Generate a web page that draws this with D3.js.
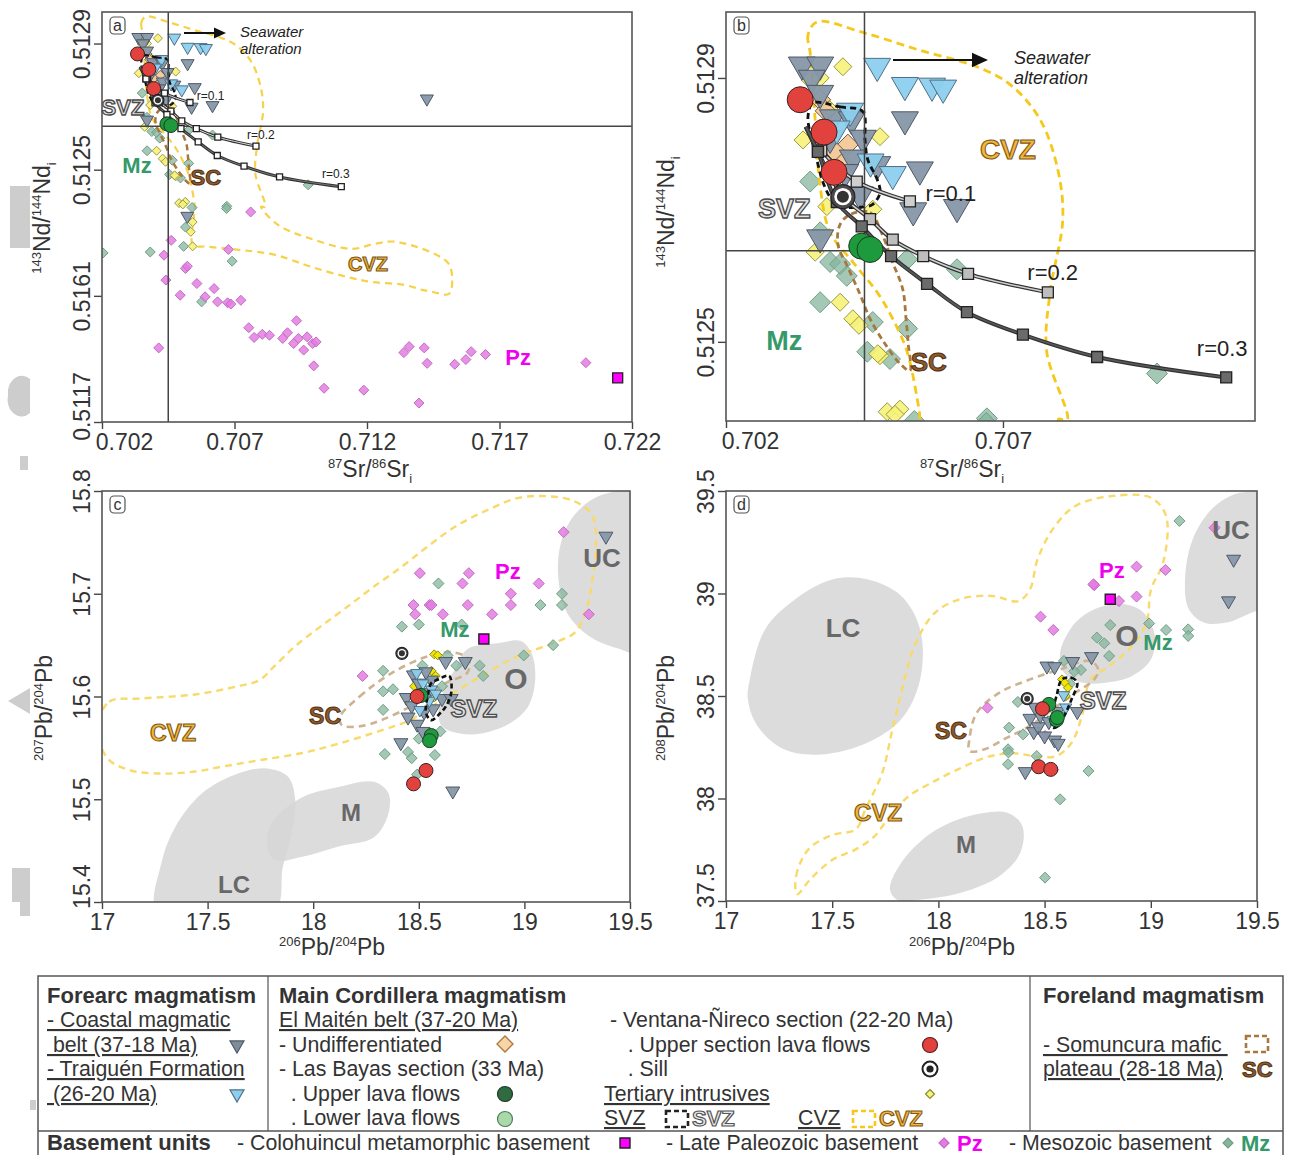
<!DOCTYPE html>
<html>
<head>
<meta charset="utf-8">
<script src="https://cdn.jsdelivr.net/npm/d3@7"></script>
<style>
  body { margin: 0; background: #fff; }
  svg { display: block; }
</style>
</head>
<body>
<svg id="fig" width="1289" height="1155"></svg>
<script>
const FONT = "'Liberation Sans', Arial, sans-serif";

// ---------- tick values / labels ----------
const srTicksA = [0.702, 0.707, 0.712, 0.717, 0.722];
const srLabelsA = ["0.702", "0.707", "0.712", "0.717", "0.722"];
const ndTicksA = [0.5129, 0.5125, 0.5121, 0.5117];
const ndLabelsA = ["0.5129", "0.5125", "0.5161", "0.5117"];
const srTicksB = [0.702, 0.707];
const srLabelsB = ["0.702", "0.707"];
const ndTicksB = [0.5129, 0.5125];
const ndLabelsB = ["0.5129", "0.5125"];
const pbTicks = [17, 17.5, 18, 18.5, 19, 19.5];
const pbLabels = ["17", "17.5", "18", "18.5", "19", "19.5"];
const pb7Ticks = [15.8, 15.7, 15.6, 15.5, 15.4];
const pb7Labels = ["15.8", "15.7", "15.6", "15.5", "15.4"];
const pb8Ticks = [39.5, 39, 38.5, 38, 37.5];
const pb8Labels = ["39.5", "39", "38.5", "38", "37.5"];

// Bulk silicate earth reference lines
const bseSr = 0.7045, bseNd = 0.512638;

// ---------- Sr-Nd data  [87Sr/86Sr, 143Nd/144Nd] ----------
const coastalSrNd = [[0.70337,0.512917],[0.70370,0.512917],[0.70355,0.512897],[0.70370,0.512874],[0.70393,0.512837],
  [0.70427,0.512834],[0.70523,0.512834],[0.70447,0.512806],[0.70473,0.512766],[0.70550,0.512758],[0.70538,0.512696],
  [0.70617,0.512701],[0.70370,0.512655],[0.70442,0.512720],[0.70429,0.512776],[0.70415,0.512754],[0.70388,0.512806],
  [0.71426,0.512722],[0.70522,0.512350]];
const traiguenSrNd = [[0.70473,0.512915],[0.70523,0.512886],[0.70572,0.512885],[0.70592,0.512882],[0.70501,0.512751],
  [0.70424,0.512847],[0.70461,0.512770],[0.70400,0.512820]];
const maitenSrNd = [[0.70370,0.512867],[0.70420,0.512799],[0.70397,0.512788],[0.70380,0.512850],[0.70410,0.512770]];
const ventanaSrNd = [[0.70334,0.512867],[0.70377,0.512818],[0.70395,0.512757]];
const sillSrNd = [[0.70411,0.512720]];
const bayasUpperSrNd = [[0.70445,0.512645],[0.70460,0.512640]];
const intrusiveSrNd = [[0.70411,0.512917],[0.70352,0.512897],[0.70370,0.512900],[0.70339,0.512806],[0.70478,0.512811],
  [0.70387,0.512852],[0.70382,0.512705],[0.70465,0.512701],[0.70361,0.512636],[0.70406,0.512560],[0.70429,0.512535],
  [0.70440,0.512525],[0.70478,0.512479],[0.70491,0.512394],[0.70514,0.512398],[0.70505,0.512390],[0.70542,0.512334],
  [0.70535,0.512303],[0.70542,0.512257],[0.70474,0.512482]];
const mzSrNd = [[0.70352,0.512743],[0.70370,0.512666],[0.70388,0.512621],[0.70370,0.512560],[0.70418,0.512600],
  [0.70465,0.512530],[0.70455,0.512485],[0.70496,0.512474],[0.70527,0.512520],[0.70527,0.512625],[0.70617,0.512610],
  [0.70671,0.512384],[0.70406,0.512618],[0.70978,0.512452],[0.70204,0.512236],[0.70382,0.512239],[0.70508,0.512257],
  [0.70670,0.512377],[0.70691,0.512210],[0.70576,0.512081],[0.70515,0.512318],[0.70540,0.512380]];
const pzSrNd = [[0.70761,0.512366],[0.70461,0.512276],[0.70434,0.512229],[0.70441,0.512150],[0.70515,0.512187],
  [0.70522,0.512194],[0.70495,0.512102],[0.70558,0.512139],[0.70589,0.512097],[0.70623,0.512123],[0.70636,0.512081],
  [0.70674,0.512078],[0.70686,0.512074],[0.70724,0.512086],[0.70677,0.512247],[0.70414,0.511935],[0.70754,0.511999],
  [0.70774,0.511968],[0.70805,0.511978],[0.70832,0.511975],[0.70882,0.511965],[0.70900,0.511983],[0.70934,0.512021],
  [0.70941,0.511965],[0.70923,0.511949],[0.70961,0.511928],[0.70974,0.511970],[0.70995,0.511949],[0.71008,0.511954],
  [0.70999,0.511878],[0.71038,0.511807],[0.71188,0.511801],[0.71339,0.511920],[0.71359,0.511939],[0.71416,0.511935],
  [0.71427,0.511886],[0.71396,0.511760],[0.71531,0.511883],[0.71573,0.511898],[0.71593,0.511923],[0.71647,0.511914],
  [0.72026,0.511888]];
const coloSrNd = [[0.72146,0.511840]];

// mixing curves
const mixR01 = [[0.70344,0.512826],[0.70372,0.512790],[0.70436,0.512743],[0.70532,0.512713]];
const mixR02 = [[0.70344,0.512826],[0.70366,0.512788],[0.70410,0.512722],[0.70460,0.512686],[0.70501,0.512655],
  [0.70556,0.512630],[0.70637,0.512603],[0.70781,0.512575]];
const mixR03 = [[0.70344,0.512826],[0.70366,0.512788],[0.70400,0.512712],[0.70445,0.512675],[0.70498,0.512630],
  [0.70563,0.512588],[0.70635,0.512545],[0.70736,0.512511],[0.70870,0.512477],[0.71103,0.512446]];

// fields in Sr-Nd space
const cvzSrNd = [[0.70364,0.512985],[0.70348,0.512965],[0.70352,0.512938],[0.70361,0.512837],[0.70370,0.512735],
  [0.70388,0.512666],[0.70429,0.512621],[0.70473,0.512575],[0.70501,0.512535],[0.70527,0.512485],[0.70545,0.512414],
  [0.70550,0.512384],[0.70547,0.512351],[0.70543,0.512262],[0.70596,0.512256],[0.70717,0.512246],[0.70853,0.512230],
  [0.70989,0.512192],[0.71125,0.512160],[0.71219,0.512144],[0.71340,0.512135],[0.71408,0.512119],[0.71445,0.512113],
  [0.71509,0.512106],[0.71521,0.512160],[0.71502,0.512208],[0.71313,0.512271],[0.71230,0.512265],[0.71143,0.512249],
  [0.70989,0.512281],[0.70864,0.512325],[0.70800,0.512383],[0.70816,0.512382],[0.70779,0.512485],[0.70785,0.512575],
  [0.70808,0.512686],[0.70799,0.512761],[0.70767,0.512837],[0.70713,0.512890],[0.70653,0.512917],[0.70550,0.512942],
  [0.70447,0.512969]];
const scSrNd = [[0.70424,0.512693],[0.70460,0.512696],[0.70482,0.512663],[0.70500,0.512622],[0.70519,0.512580],
  [0.70525,0.512535],[0.70529,0.512497],[0.70532,0.512456],[0.70514,0.512467],[0.70487,0.512497],[0.70460,0.512535],
  [0.70442,0.512572],[0.70420,0.512613],[0.70402,0.512648],[0.70406,0.512678]];
const svzSrNd = [[0.70357,0.512862],[0.70406,0.512856],[0.70447,0.512849],[0.70451,0.512806],[0.70456,0.512776],
  [0.70473,0.512746],[0.70478,0.512726],[0.70464,0.512708],[0.70442,0.512704],[0.70411,0.512705],[0.70391,0.512716],
  [0.70375,0.512742],[0.70364,0.512776],[0.70355,0.512806],[0.70348,0.512841]];

// ---------- Pb data, panel c  [206Pb/204Pb, 207Pb/204Pb] ----------
const coastalPb7 = [[18.720,15.633],[18.627,15.633],[18.475,15.620],[18.441,15.598],[18.466,15.590],[18.449,15.579],
  [18.492,15.572],[18.525,15.584],[18.568,15.587],[18.542,15.603],[18.559,15.615],[18.610,15.597],[18.653,15.597],
  [18.415,15.554],[18.661,15.507],[19.386,15.755],[18.534,15.623],[18.500,15.612],[18.520,15.565]];
const traiguenPb7 = [[18.490,15.622],[18.520,15.612],[18.560,15.606],[18.550,15.595],[18.505,15.586],[18.580,15.602]];
const ventanaPb7 = [[18.492,15.600],[18.534,15.528],[18.475,15.515]];
const bayasPb7 = [[18.510,15.601],[18.559,15.562],[18.551,15.557]];
const sillPb7 = [[18.420,15.642]];
const intrusivePb7 = [[18.573,15.641],[18.590,15.640],[18.478,15.610],[18.580,15.620],[18.573,15.599],[18.560,15.625]];
const pzPb7 = [[18.505,15.720],[18.737,15.720],[18.707,15.710],[19.186,15.760],[19.068,15.710],[18.936,15.700],
  [18.936,15.689],[18.732,15.689],[18.551,15.689],[18.475,15.689],[18.483,15.680],[18.614,15.680],[18.847,15.680],
  [19.305,15.680],[18.234,15.620],[18.560,15.689]];
const mzPb7 = [[18.593,15.710],[18.420,15.668],[18.500,15.670],[18.703,15.670],[19.076,15.689],[19.178,15.700],
  [19.178,15.689],[19.136,15.650],[18.997,15.640],[18.636,15.640],[18.788,15.630],[18.805,15.620],[18.331,15.625],
  [18.378,15.607],[18.331,15.605],[18.331,15.587],[18.517,15.630],[18.678,15.630],[18.610,15.610],[18.339,15.544],
  [18.449,15.546],[18.466,15.540],[18.500,15.559],[18.576,15.543],[18.602,15.566],[18.492,15.524]];
const coloPb7 = [[18.808,15.656]];

// ---------- Pb data, panel d  [206Pb/204Pb, 208Pb/204Pb] ----------
const coastalPb8 = [[18.511,38.641],[18.547,38.638],[18.632,38.663],[18.721,38.687],[18.654,38.419],[18.431,38.386],
  [18.449,38.321],[18.470,38.345],[18.547,38.280],[18.564,38.264],[18.409,38.126],[19.390,39.162],[19.366,38.959],
  [18.480,38.400],[18.520,38.370],[18.500,38.300],[18.560,38.420],[18.455,38.440]];
const traiguenPb8 = [[18.573,38.400],[18.600,38.440],[18.540,38.380],[18.590,38.500]];
const ventanaPb8 = [[18.490,38.438],[18.472,38.155],[18.529,38.142]];
const bayasPb8 = [[18.520,38.459],[18.556,38.383],[18.560,38.395]];
const sillPb8 = [[18.418,38.487]];
const intrusivePb8 = [[18.582,38.581],[18.595,38.565],[18.610,38.540],[18.600,38.500]];
const pzPb8 = [[18.734,39.040],[18.933,39.131],[19.069,39.115],[18.933,38.985],[18.850,38.963],[18.481,38.887],
  [18.541,38.822],[18.231,38.443],[19.300,39.321],[18.502,38.305],[18.730,39.045],[18.540,38.140]];
const mzPb8 = [[19.135,39.354],[18.809,38.846],[18.992,38.854],[19.072,38.822],[19.176,38.825],[19.176,38.793],
  [18.746,38.785],[18.781,38.757],[18.804,38.695],[18.671,38.627],[18.591,38.671],[18.333,38.346],[18.399,38.313],
  [18.328,38.240],[18.330,38.225],[18.328,38.167],[18.463,38.207],[18.707,38.134],[18.573,37.996],[18.502,37.614],
  [18.374,38.471],[18.640,38.620],[18.620,38.560]];
const coloPb8 = [[18.809,38.972]];

// ---------- fields in Pb space ----------
const cvzPb7 = [[16.983,15.574],[17.034,15.595],[17.186,15.598],[17.441,15.602],[17.644,15.610],[17.746,15.616],
  [17.814,15.629],[17.915,15.649],[18.034,15.668],[18.153,15.686],[18.288,15.707],[18.424,15.727],[18.542,15.746],
  [18.678,15.766],[18.831,15.782],[18.966,15.793],[19.102,15.795],[19.237,15.790],[19.322,15.776],[19.339,15.746],
  [19.322,15.714],[19.288,15.681],[19.237,15.662],[19.136,15.652],[18.966,15.639],[18.797,15.620],[18.661,15.603],
  [18.559,15.590],[18.458,15.577],[18.322,15.567],[18.119,15.554],[17.949,15.545],[17.746,15.538],[17.576,15.532],
  [17.441,15.527],[17.271,15.525],[17.136,15.528],[17.034,15.538],[16.992,15.554]];
const scPb7 = [[18.127,15.580],[18.220,15.600],[18.373,15.623],[18.542,15.639],[18.661,15.643],[18.737,15.636],
  [18.729,15.623],[18.627,15.613],[18.559,15.603],[18.458,15.590],[18.322,15.577],[18.220,15.571],[18.136,15.572]];
const svzPb7 = [[18.585,15.616],[18.644,15.620],[18.653,15.603],[18.627,15.590],[18.602,15.584],[18.559,15.577],
  [18.534,15.584],[18.542,15.600],[18.559,15.613]];
const ucPb7 = [[19.161,15.714],[19.169,15.746],[19.220,15.772],[19.322,15.792],[19.441,15.800],[19.576,15.802],
  [19.576,15.642],[19.441,15.647],[19.305,15.659],[19.203,15.681]];
const oPb7 = [[18.729,15.646],[18.881,15.652],[18.983,15.654],[19.034,15.642],[19.051,15.616],[19.017,15.590],
  [18.932,15.574],[18.797,15.564],[18.695,15.564],[18.610,15.571],[18.593,15.587],[18.627,15.610],[18.678,15.629]];
const mPb7 = [[17.780,15.460],[17.814,15.480],[17.949,15.502],[18.119,15.512],[18.288,15.517],[18.356,15.506],
  [18.356,15.486],[18.288,15.463],[18.119,15.454],[17.949,15.444],[17.814,15.441]];
const lcPb7 = [[17.263,15.390],[17.280,15.437],[17.347,15.473],[17.475,15.506],[17.644,15.525],[17.780,15.530],
  [17.881,15.522],[17.915,15.499],[17.898,15.467],[17.856,15.434],[17.814,15.390]];

const cvzPb8 = [[17.335,37.533],[17.330,37.622],[17.388,37.752],[17.495,37.820],[17.611,37.850],[17.656,37.947],
  [17.736,38.126],[17.780,38.321],[17.825,38.516],[17.887,38.744],[17.985,38.907],[18.110,38.975],[18.253,38.988],
  [18.377,38.963],[18.431,39.020],[18.467,39.167],[18.538,39.313],[18.645,39.427],[18.823,39.476],[19.001,39.467],
  [19.072,39.378],[19.058,39.150],[19.001,39.020],[18.980,38.858],[18.912,38.744],[18.805,38.646],[18.716,38.581],
  [18.680,38.419],[18.627,38.272],[18.556,38.207],[18.467,38.204],[18.360,38.220],[18.235,38.204],[18.092,38.142],
  [17.968,38.077],[17.861,38.012],[17.772,37.915],[17.700,37.817],[17.611,37.752],[17.504,37.703],[17.397,37.606]];
const scPb8 = [[18.146,38.289],[18.181,38.419],[18.288,38.516],[18.431,38.581],[18.573,38.630],[18.716,38.671],
  [18.752,38.630],[18.734,38.581],[18.645,38.516],[18.538,38.435],[18.431,38.354],[18.324,38.297],[18.217,38.240],
  [18.146,38.232]];
const svzPb8 = [[18.582,38.581],[18.627,38.589],[18.654,38.565],[18.627,38.484],[18.600,38.419],[18.565,38.354],
  [18.538,38.346],[18.538,38.419],[18.556,38.500]];
const lcPb8 = [[17.112,38.581],[17.184,38.825],[17.326,38.972],[17.504,39.069],[17.665,39.069],[17.825,38.988],
  [17.914,38.825],[17.914,38.581],[17.825,38.386],[17.665,38.272],[17.451,38.215],[17.273,38.240],[17.148,38.354],
  [17.103,38.484]];
const mPb8 = [[17.772,37.557],[17.825,37.687],[17.968,37.833],[18.146,37.915],[18.324,37.931],[18.395,37.866],
  [18.386,37.736],[18.288,37.622],[18.110,37.541],[17.932,37.508],[17.807,37.505]];
const oPb8 = [[18.573,38.711],[18.645,38.858],[18.752,38.931],[18.876,38.947],[18.965,38.907],[19.019,38.793],
  [19.001,38.679],[18.912,38.598],[18.787,38.565],[18.680,38.565],[18.591,38.614]];
const ucPb8 = [[19.179,38.923],[19.161,39.069],[19.197,39.264],[19.286,39.411],[19.393,39.484],[19.500,39.500],
  [19.607,39.524],[19.607,38.923],[19.500,38.915],[19.357,38.858],[19.250,38.858]];

// ---------- styles ----------
const sty = {
  coastal:  { fill: "#8797a8", stroke: "#4d5966", op: 0.95 },
  traiguen: { fill: "#8ccfee", stroke: "#4f6f85", op: 0.95 },
  maiten:   { fill: "#f2c898", stroke: "#6b5a48", op: 0.95 },
  ventana:  { fill: "#e2423d", stroke: "#3a2020", op: 1 },
  bayas:    { fill: "#1d9a3c", stroke: "#1f3a25", op: 1 },
  yellowAB: { fill: "#f6f27a", stroke: "#9a9a40", op: 0.9 },
  yellowCD: { fill: "#f2e600", stroke: "#8a8a20", op: 1 },
  pz:       { fill: "#e27ce2", stroke: "#c56ac5", op: 0.85 },
  mz:       { fill: "#86b59c", stroke: "#6f9f86", op: 0.75 },
  colo:     { fill: "#ff00ff", stroke: "#222", op: 1 }
};
const LAB = {
  svz:  { fill: "#e2e2e2", stroke: "#4a4a4a", sw: 1.3 },
  cvz:  { fill: "#f5b53a", stroke: "#7d5a1a", sw: 1.1 },
  sc:   { fill: "#8d5a2b", stroke: "#4f3015", sw: 1 },
  mz:   { fill: "#35996a" },
  pz:   { fill: "#f000f0" },
  grey: { fill: "#686868" },
  txt:  { fill: "#222", weight: "normal" }
};

const svg = d3.select("#fig").attr("font-family", FONT);

// shape paths centred on 0,0
const shapes = {
  tri: s => `M${-s/2},${-s*0.36}L${s/2},${-s*0.36}L0,${s*0.5}Z`,
  dia: s => `M0,${-s/2}L${s/2},0L0,${s/2}L${-s/2},0Z`,
  sq:  s => `M${-s/2},${-s/2}h${s}v${s}h${-s}Z`,
  circ: s => `M${-s},0a${s},${s} 0 1,0 ${2*s},0a${s},${s} 0 1,0 ${-2*s},0Z`
};

// ---------- panel helpers ----------
function makePanel(p) {
  const x = d3.scaleLinear().domain(p.xd).range([p.x0, p.x0 + p.w]);
  const y = d3.scaleLinear().domain(p.yd).range([p.y0 + p.h, p.y0]);
  const root = svg.append("g");
  root.append("clipPath").attr("id", "clip-" + p.id)
    .append("rect").attr("x", p.x0).attr("y", p.y0).attr("width", p.w).attr("height", p.h);
  const plot = root.append("g").attr("clip-path", `url(#clip-${p.id})`);
  return { x, y, root, plot, p };
}

function pts(P, data, shape, size, s, sw) {
  P.plot.append("g").selectAll("path").data(data).join("path")
    .attr("transform", d => `translate(${P.x(d[0])},${P.y(d[1])})`)
    .attr("d", shapes[shape](size))
    .attr("fill", s.fill).attr("stroke", s.stroke)
    .attr("stroke-width", sw || 1).attr("fill-opacity", s.op);
}

function sill(P, data, r) {
  const g = P.plot.append("g").selectAll("g").data(data).join("g")
    .attr("transform", d => `translate(${P.x(d[0])},${P.y(d[1])})`);
  g.append("circle").attr("r", r).attr("fill", "#4a4a4a").attr("stroke", "#222").attr("stroke-width", 1.2);
  g.append("circle").attr("r", r * 0.72).attr("fill", "#fff");
  g.append("circle").attr("r", r * 0.5).attr("fill", "#333");
}

const fieldLine = d3.line().curve(d3.curveCatmullRomClosed.alpha(0.5));
function field(P, data, opt) {
  P.plot.append("path")
    .attr("d", fieldLine(data.map(d => [P.x(d[0]), P.y(d[1])])))
    .attr("fill", opt.fill || "none").attr("fill-opacity", opt.op || 1)
    .attr("stroke", opt.stroke || "none").attr("stroke-width", opt.sw || 0)
    .attr("stroke-dasharray", opt.dash || null);
}

const mixLine = d3.line().curve(d3.curveCatmullRom);
function mixing(P, data, inner, sq, sqFill, outerW, innerW) {
  const dd = data.map(d => [P.x(d[0]), P.y(d[1])]);
  P.plot.append("path").attr("d", mixLine(dd)).attr("fill", "none").attr("stroke", "#333").attr("stroke-width", outerW);
  P.plot.append("path").attr("d", mixLine(dd)).attr("fill", "none").attr("stroke", inner).attr("stroke-width", innerW);
  P.plot.append("g").selectAll("path").data(data.slice(1)).join("path")
    .attr("transform", d => `translate(${P.x(d[0])},${P.y(d[1])})`)
    .attr("d", shapes.sq(sq)).attr("fill", sqFill).attr("stroke", "#222").attr("stroke-width", 1.3);
}

function label(P, text, pos, kind, size, extra) {
  const s = LAB[kind];
  const t = P.root.append("text")
    .attr("x", P.x(pos[0])).attr("y", P.y(pos[1]))
    .attr("text-anchor", (extra && extra.anchor) || "middle")
    .attr("dominant-baseline", "central")
    .attr("font-size", size).attr("font-weight", s.weight || "bold")
    .attr("fill", s.fill).text(text);
  if (s.stroke) t.attr("stroke", s.stroke).attr("stroke-width", s.sw);
  return t;
}

function axes(P, xt, xl, yt, yl, firstShift) {
  const { x, y, root, p } = P;
  const ax = root.append("g").attr("transform", `translate(0,${p.y0 + p.h})`)
    .call(d3.axisBottom(x).tickValues(xt).tickFormat((d, i) => xl[i]).tickSize(7).tickSizeOuter(0));
  ax.attr("font-size", 23).attr("font-family", FONT);
  ax.select(".domain").remove();
  ax.selectAll(".tick line").attr("stroke", "#444").attr("stroke-width", 1.4);
  ax.selectAll(".tick text").attr("fill", "#333").attr("y", 12)
    .attr("dx", (d, i) => (i === 0 ? firstShift : 0));

  const ay = root.append("g").attr("transform", `translate(${p.x0},0)`)
    .call(d3.axisLeft(y).tickValues(yt).tickFormat((d, i) => yl[i]).tickSize(8).tickSizeOuter(0));
  ay.attr("font-size", 23).attr("font-family", FONT);
  ay.select(".domain").remove();
  ay.selectAll(".tick line").attr("stroke", "#444").attr("stroke-width", 1.4);
  ay.selectAll(".tick text").attr("fill", "#333")
    .attr("transform", "rotate(-90)").attr("y", -12).attr("dy", 0)
    .attr("x", (d, i) => (i === yt.length - 1 && P.p.shiftLast ? 16 : 0))
    .attr("text-anchor", "middle");

  root.append("rect").attr("x", p.x0).attr("y", p.y0).attr("width", p.w).attr("height", p.h)
    .attr("fill", "none").attr("stroke", "#555").attr("stroke-width", 1.6);
  root.append("rect").attr("x", p.x0 + 8).attr("y", p.y0 + 5).attr("width", 15).attr("height", 17).attr("rx", 4)
    .attr("fill", "#fff").attr("stroke", "#555").attr("stroke-width", 1.2);
  root.append("text").attr("x", p.x0 + 15.5).attr("y", p.y0 + 19).attr("text-anchor", "middle")
    .attr("font-size", 16).attr("fill", "#333").text(p.id);
}

// axis title: parts = [[text, kind]] kind: n normal, sup, sub
function title(x, y, parts, rot) {
  const t = svg.append("text").attr("font-size", 23).attr("fill", "#333").attr("text-anchor", "middle")
    .attr("transform", `translate(${x},${y})` + (rot ? " rotate(-90)" : ""));
  let shift = 0;
  parts.forEach(([s, k]) => {
    const target = k === "sup" ? -9 : k === "sub" ? 6 : 0;
    t.append("tspan").attr("dy", target - shift).attr("font-size", k === "n" ? 23 : 13).text(s);
    shift = target;
  });
  return t;
}

function arrow(x1, x2, y, head) {
  svg.append("line").attr("x1", x1).attr("x2", x2 - head).attr("y1", y).attr("y2", y)
    .attr("stroke", "#111").attr("stroke-width", 2);
  svg.append("path").attr("d", `M${x2},${y}L${x2 - head},${y - head * 0.45}L${x2 - head},${y + head * 0.45}Z`)
    .attr("fill", "#111");
}

// ---------- stray greyscale fragments at the left edge ----------
const edge = svg.append("g").attr("fill", "#cdcdcd");
edge.append("rect").attr("x", 10).attr("y", 186).attr("width", 20).attr("height", 62);
edge.append("path").attr("d", "M8,395 a14,17 0 0,1 22,-16 v34 a14,17 0 0,1 -22,-18Z");
edge.append("rect").attr("x", 20).attr("y", 456).attr("width", 8).attr("height", 14);
edge.append("path").attr("d", "M8,701 L30,688 L30,714Z");
edge.append("path").attr("d", "M12,868 h18 v48 h-10 v-14 h-8Z");
edge.append("rect").attr("x", 30).attr("y", 1100).attr("width", 6).attr("height", 10);

// ================= panel a =================
const A = makePanel({ id: "a", x0: 102, y0: 12, w: 530, h: 410, xd: [0.702, 0.722], yd: [0.5117, 0.5130], shiftLast: true });
field(A, cvzSrNd, { stroke: "#f6d24a", sw: 2.2, dash: "7,5" });
pts(A, mzSrNd, "dia", 10, sty.mz);
pts(A, pzSrNd, "dia", 10, sty.pz);
pts(A, intrusiveSrNd, "dia", 9, sty.yellowAB);
field(A, scSrNd, { stroke: "#a8773f", sw: 2.5, dash: "6,4" });
pts(A, maitenSrNd, "dia", 10, sty.maiten);
pts(A, coastalSrNd, "tri", 13, sty.coastal);
pts(A, traiguenSrNd, "tri", 13, sty.traiguen);
field(A, svzSrNd, { stroke: "#111", sw: 2.2, dash: "5,3" });
A.plot.append("line").attr("x1", A.x(bseSr)).attr("x2", A.x(bseSr)).attr("y1", 12).attr("y2", 422).attr("stroke", "#444").attr("stroke-width", 1.5);
A.plot.append("line").attr("x1", 102).attr("x2", 632).attr("y1", A.y(bseNd)).attr("y2", A.y(bseNd)).attr("stroke", "#444").attr("stroke-width", 1.5);
mixing(A, mixR01, "#ddd", 6, "#fff", 3, 1);
mixing(A, mixR02, "#ddd", 6, "#fff", 3, 1);
mixing(A, mixR03, "#777", 6, "#fff", 3, 1);
pts(A, bayasUpperSrNd, "circ", 7, sty.bayas);
pts(A, ventanaSrNd, "circ", 7, sty.ventana);
sill(A, sillSrNd, 6);
pts(A, coloSrNd, "sq", 10, sty.colo, 1.3);
axes(A, srTicksA, srLabelsA, ndTicksA, ndLabelsA, 22);
label(A, "SVZ", [0.70279, 0.512697], "svz", 22);
label(A, "Mz", [0.70332, 0.512513], "mz", 22);
label(A, "SC", [0.70592, 0.512475], "sc", 22);
label(A, "CVZ", [0.71204, 0.512202], "cvz", 20);
label(A, "Pz", [0.71770, 0.511906], "pz", 22);
label(A, "r=0.1", [0.70558, 0.512734], "txt", 12, { anchor: "start" });
label(A, "r=0.2", [0.70747, 0.512611], "txt", 12, { anchor: "start" });
label(A, "r=0.3", [0.71030, 0.512487], "txt", 12, { anchor: "start" });
arrow(184, 226, 33, 12);
svg.append("text").attr("x", 240).attr("y", 37).attr("font-size", 15).attr("font-style", "italic").attr("fill", "#222").text("Seawater");
svg.append("text").attr("x", 240).attr("y", 54).attr("font-size", 15).attr("font-style", "italic").attr("fill", "#222").text("alteration");
title(370, 477, [["87", "sup"], ["Sr/", "n"], ["86", "sup"], ["Sr", "n"], ["i", "sub"]]);
title(50, 218, [["143", "sup"], ["Nd/", "n"], ["144", "sup"], ["Nd", "n"], ["i", "sub"]], true);

// ================= panel b =================
const B = makePanel({ id: "b", x0: 726, y0: 12, w: 529, h: 409, xd: [0.702, 0.71155], yd: [0.51238, 0.51300] });
pts(B, mzSrNd, "dia", 21, sty.mz);
pts(B, intrusiveSrNd, "dia", 18, sty.yellowAB);
field(B, cvzSrNd, { stroke: "#f5c91c", sw: 2.8, dash: "8,5" });
field(B, scSrNd, { stroke: "#a8773f", sw: 2.8, dash: "6,4" });
pts(B, maitenSrNd, "dia", 21, sty.maiten);
pts(B, coastalSrNd, "tri", 27, sty.coastal);
pts(B, traiguenSrNd, "tri", 27, sty.traiguen);
field(B, svzSrNd, { stroke: "#111", sw: 2.8, dash: "6,4" });
B.plot.append("line").attr("x1", B.x(bseSr)).attr("x2", B.x(bseSr)).attr("y1", 12).attr("y2", 421).attr("stroke", "#444").attr("stroke-width", 1.5);
B.plot.append("line").attr("x1", 726).attr("x2", 1255).attr("y1", B.y(bseNd)).attr("y2", B.y(bseNd)).attr("stroke", "#444").attr("stroke-width", 1.5);
mixing(B, mixR01, "#d0d0d0", 11, "#cfcfcf", 4, 1.6);
mixing(B, mixR02, "#d0d0d0", 11, "#bdbdbd", 4, 1.6);
mixing(B, mixR03, "#5a5a5a", 11, "#6b6b6b", 4, 1.6);
pts(B, bayasUpperSrNd, "circ", 13, sty.bayas);
pts(B, ventanaSrNd, "circ", 13, sty.ventana);
sill(B, sillSrNd, 12);
axes(B, srTicksB, srLabelsB, ndTicksB, ndLabelsB, 24);
label(B, "CVZ", [0.70709, 0.512791], "cvz", 28);
label(B, "SVZ", [0.70305, 0.512701], "svz", 27);
label(B, "Mz", [0.70305, 0.512502], "mz", 27);
label(B, "SC", [0.70566, 0.512470], "sc", 26);
label(B, "r=0.1", [0.70560, 0.512725], "txt", 22, { anchor: "start" });
label(B, "r=0.2", [0.70744, 0.512605], "txt", 22, { anchor: "start" });
label(B, "r=0.3", [0.71050, 0.512490], "txt", 22, { anchor: "start" });
arrow(893, 988, 60, 16);
svg.append("text").attr("x", 1014).attr("y", 64).attr("font-size", 18).attr("font-style", "italic").attr("fill", "#222").text("Seawater");
svg.append("text").attr("x", 1014).attr("y", 84).attr("font-size", 18).attr("font-style", "italic").attr("fill", "#222").text("alteration");
title(962, 477, [["87", "sup"], ["Sr/", "n"], ["86", "sup"], ["Sr", "n"], ["i", "sub"]]);
title(674, 212, [["143", "sup"], ["Nd/", "n"], ["144", "sup"], ["Nd", "n"], ["i", "sub"]], true);

// ================= panel c =================
const C = makePanel({ id: "c", x0: 102, y0: 491, w: 528, h: 411, xd: [17, 19.5], yd: [15.4, 15.8], shiftLast: true });
[ucPb7, oPb7, mPb7, lcPb7].forEach(f => field(C, f, { fill: "#d6d6d6", op: 0.85 }));
field(C, cvzPb7, { stroke: "#f7da6a", sw: 2.4, dash: "7,5" });
field(C, scPb7, { stroke: "#cdb391", sw: 2.6, dash: "7,5" });
pts(C, mzPb7, "dia", 11, sty.mz);
pts(C, pzPb7, "dia", 11, sty.pz);
pts(C, intrusivePb7, "dia", 9, sty.yellowCD);
pts(C, coastalPb7, "tri", 14, sty.coastal);
pts(C, traiguenPb7, "tri", 12, sty.traiguen);
field(C, svzPb7, { stroke: "#111", sw: 2.6, dash: "5,3" });
pts(C, bayasPb7, "circ", 7, sty.bayas);
pts(C, ventanaPb7, "circ", 7, sty.ventana);
sill(C, sillPb7, 6);
pts(C, coloPb7, "sq", 10, sty.colo, 1.4);
axes(C, pbTicks, pbLabels, pb7Ticks, pb7Labels, 0);
label(C, "CVZ", [17.336, 15.564], "cvz", 23);
label(C, "SC", [18.056, 15.581], "sc", 23);
label(C, "Mz", [18.671, 15.665], "mz", 22);
label(C, "Pz", [18.922, 15.722], "pz", 22);
label(C, "O", [18.960, 15.618], "grey", 30);
label(C, "SVZ", [18.761, 15.588], "svz", 24);
label(C, "UC", [19.367, 15.735], "grey", 26);
label(C, "M", [18.179, 15.487], "grey", 24);
label(C, "LC", [17.625, 15.417], "grey", 24);
title(332, 955, [["206", "sup"], ["Pb/", "n"], ["204", "sup"], ["Pb", "n"]]);
title(52, 708, [["207", "sup"], ["Pb/", "n"], ["204", "sup"], ["Pb", "n"]], true);

// ================= panel d =================
const D = makePanel({ id: "d", x0: 726, y0: 491, w: 531, h: 410, xd: [17, 19.5], yd: [37.5, 39.5], shiftLast: true });
[ucPb8, oPb8, mPb8, lcPb8].forEach(f => field(D, f, { fill: "#d6d6d6", op: 0.85 }));
field(D, cvzPb8, { stroke: "#f7da6a", sw: 2.4, dash: "7,5" });
field(D, scPb8, { stroke: "#cdb391", sw: 2.6, dash: "7,5" });
pts(D, mzPb8, "dia", 11, sty.mz);
pts(D, pzPb8, "dia", 11, sty.pz);
pts(D, intrusivePb8, "dia", 9, sty.yellowCD);
pts(D, coastalPb8, "tri", 14, sty.coastal);
pts(D, traiguenPb8, "tri", 12, sty.traiguen);
field(D, svzPb8, { stroke: "#111", sw: 2.6, dash: "5,3" });
pts(D, bayasPb8, "circ", 7, sty.bayas);
pts(D, ventanaPb8, "circ", 7, sty.ventana);
sill(D, sillPb8, 6);
pts(D, coloPb8, "sq", 10, sty.colo, 1.4);
axes(D, pbTicks, pbLabels, pb8Ticks, pb8Labels, 0);
label(D, "LC", [17.551, 38.832], "grey", 26);
label(D, "O", [18.888, 38.793], "grey", 30);
label(D, "Mz", [19.034, 38.759], "mz", 22);
label(D, "Pz", [18.817, 39.110], "pz", 22);
label(D, "UC", [19.378, 39.310], "grey", 26);
label(D, "SVZ", [18.775, 38.480], "svz", 24);
label(D, "SC", [18.059, 38.329], "sc", 23);
label(D, "CVZ", [17.716, 37.934], "cvz", 24);
label(D, "M", [18.130, 37.778], "grey", 24);
title(962, 955, [["206", "sup"], ["Pb/", "n"], ["204", "sup"], ["Pb", "n"]]);
title(674, 708, [["208", "sup"], ["Pb/", "n"], ["204", "sup"], ["Pb", "n"]], true);

// ================= legend =================
const L = svg.append("g").attr("font-size", 21.3).attr("fill", "#333");
L.append("path").attr("d", "M38,1160 V976 H1283 V1160").attr("fill", "none").attr("stroke", "#555").attr("stroke-width", 1.5);
L.append("line").attr("x1", 38).attr("x2", 1283).attr("y1", 1131).attr("y2", 1131).attr("stroke", "#555").attr("stroke-width", 1.5);
L.append("line").attr("x1", 268).attr("x2", 268).attr("y1", 976).attr("y2", 1131).attr("stroke", "#555").attr("stroke-width", 1.2);
L.append("line").attr("x1", 1030).attr("x2", 1030).attr("y1", 976).attr("y2", 1131).attr("stroke", "#555").attr("stroke-width", 1.2);

function lt(x, y, s, o) {
  o = o || {};
  const t = L.append("text").attr("x", x).attr("y", y).text(s).attr("xml:space", "preserve");
  if (o.bold) t.attr("font-weight", "bold");
  if (o.u) t.style("text-decoration", "underline");
  if (o.fill) t.attr("fill", o.fill);
  if (o.size) t.attr("font-size", o.size);
  if (o.stroke) t.attr("stroke", o.stroke).attr("stroke-width", o.sw || 1);
  return t;
}
function lsym(x, y, shape, size, s, sw) {
  L.append("path").attr("transform", `translate(${x},${y})`).attr("d", shapes[shape](size))
    .attr("fill", s.fill).attr("stroke", s.stroke).attr("stroke-width", sw || 1.2);
}
function dashBox(x, y, col) {
  L.append("rect").attr("x", x).attr("y", y).attr("width", 22).attr("height", 16)
    .attr("fill", "none").attr("stroke", col).attr("stroke-width", 2.6).attr("stroke-dasharray", "5,3");
}

lt(47, 1003, "Forearc magmatism", { bold: true, size: 22 });
lt(47, 1027, "- Coastal magmatic", { u: true });
lt(47, 1052, " belt (37-18 Ma)", { u: true });
lsym(237, 1046, "tri", 14, { fill: "#7f8c99", stroke: "#4d5966" });
lt(47, 1076, "- Traiguén Formation", { u: true });
lt(47, 1101, " (26-20 Ma)", { u: true });
lsym(237, 1095, "tri", 14, { fill: "#8ccfee", stroke: "#4f6f85" });

lt(279, 1003, "Main Cordillera magmatism", { bold: true, size: 22 });
lt(279, 1027, "El Maitén belt (37-20 Ma)", { u: true });
lt(279, 1052, "- Undifferentiated");
lsym(505, 1044, "dia", 16, { fill: "#f8d5a8", stroke: "#b07a40" }, 1.4);
lt(279, 1076, "- Las Bayas section (33 Ma)");
lt(279, 1101, "  . Upper lava flows");
lsym(505, 1094, "circ", 7.5, { fill: "#2f6b3f", stroke: "#1f3a25" });
lt(279, 1125, "  . Lower lava flows");
lsym(505, 1119, "circ", 7.5, { fill: "#a9d9ab", stroke: "#4f7f55" });

lt(610, 1027, "- Ventana-Ñireco section (22-20 Ma)");
lt(610, 1052, "   . Upper section lava flows");
lsym(930, 1045, "circ", 7.5, { fill: "#e2423d", stroke: "#5a2020" });
lt(610, 1076, "   . Sill");
L.append("circle").attr("cx", 930).attr("cy", 1069).attr("r", 7.5).attr("fill", "#fff").attr("stroke", "#222").attr("stroke-width", 2);
L.append("circle").attr("cx", 930).attr("cy", 1069).attr("r", 3.6).attr("fill", "#222");
lt(604, 1101, "Tertiary intrusives", { u: true });
lsym(930, 1094, "dia", 9, { fill: "#f6f27a", stroke: "#8a8a30" });
lt(604, 1125, "SVZ", { u: true });
dashBox(666, 1111, "#222");
lt(692, 1126, "SVZ", { bold: true, size: 22, fill: "#e8e8e8", stroke: "#555", sw: 1.2 });
lt(798, 1125, "CVZ", { u: true });
dashBox(853, 1111, "#f5c91c");
lt(879, 1126, "CVZ", { bold: true, size: 22, fill: "#f5b53a", stroke: "#7d5a1a", sw: 1.1 });

lt(1043, 1003, "Foreland magmatism", { bold: true, size: 22 });
lt(1043, 1052, "- Somuncura mafic ", { u: true });
dashBox(1246, 1036, "#a8773f");
lt(1043, 1076, "plateau (28-18 Ma)", { u: true });
lt(1242, 1077, "SC", { bold: true, size: 22, fill: "#8d5a2b", stroke: "#4f3015", sw: 1 });

lt(47, 1150, "Basement units", { bold: true, size: 22 });
lt(237, 1150, "- Colohuincul metamorphic basement");
lsym(625, 1143, "sq", 10, { fill: "#ff00ff", stroke: "#222" }, 1.4);
lt(666, 1150, "- Late Paleozoic basement");
lsym(944, 1143, "dia", 10, { fill: "#e27ce2", stroke: "#c56ac5" });
lt(957, 1151, "Pz", { bold: true, size: 22, fill: "#f000f0" });
lt(1009, 1150, "- Mesozoic basement");
lsym(1228, 1143, "dia", 10, { fill: "#86b59c", stroke: "#6f9f86" });
lt(1241, 1151, "Mz", { bold: true, size: 22, fill: "#35996a" });
</script>
</body>
</html>
